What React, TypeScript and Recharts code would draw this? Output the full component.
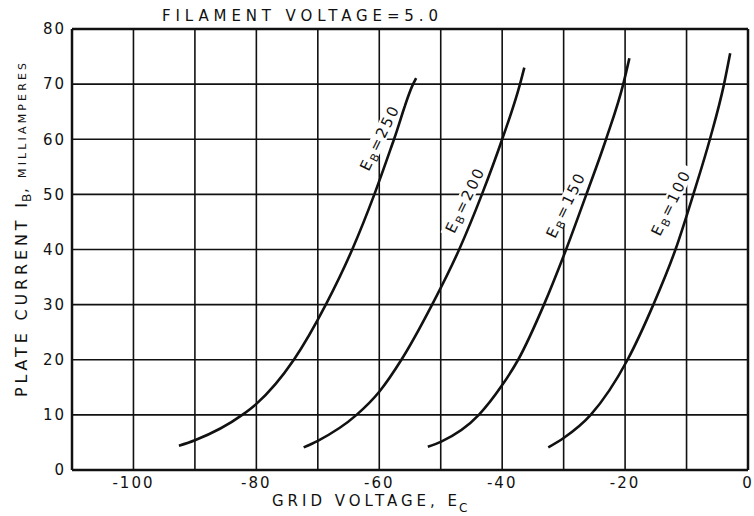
import React from 'react';
import { LineChart, Line, XAxis, YAxis, CartesianGrid, ReferenceDot, ReferenceLine } from 'recharts';

// grid voltage (x) / plate current mA (y), one pair of arrays per curve
const ec250 = [-92.6, -90, -82.3, -80, -73.9, -68.7, -64.4, -60.8, -57.6, -54.5, -54.0];
const ib250 = [4.4, 5.4, 10, 12, 20, 30, 40, 50, 60, 70, 71.1];

const ec200 = [-72.3, -70, -63.7, -60, -56.4, -51.4, -47.0, -43.3, -40.0, -37.1, -36.4];
const ib200 = [4.1, 5.3, 10, 14.2, 20, 30, 40, 50, 60, 70, 73.0];

const ec150 = [-52.1, -50, -43.8, -40, -37.4, -33.2, -29.6, -26.3, -23.1, -20.3, -19.3];
const ib150 = [4.2, 5.1, 10, 15.4, 20, 30, 40, 50, 60, 70, 74.7];

const ec100 = [-32.5, -30, -25.6, -19.6, -15.4, -11.8, -8.9, -6.2, -3.9, -2.9];
const ib100 = [4.1, 5.8, 10, 20, 30, 40, 50, 60, 70, 75.6];

const plateVolts = ['250', '200', '150', '100'];
// where each E_B label sits, in chart units
const labelEc = [-59.9, -46.0, -29.6, -12.5];
const labelIb = [60.3, 49.0, 48.1, 48.5];

const xTicks = [-110, -100, -90, -80, -70, -60, -50, -40, -30, -20, -10, 0];
const yTicks = [0, 10, 20, 30, 40, 50, 60, 70, 80];

const pairs = (xs: number[], ys: number[]) => xs.map((x, i) => ({ x, y: ys[i] }));
const curves = [pairs(ec250, ib250), pairs(ec200, ib200), pairs(ec150, ib150), pairs(ec100, ib100)];

const INK = '#111';
const FONT = '"DejaVu Sans", Verdana, sans-serif';

const curveLabel = (volts: string) => (props: any) => {
  const vb = props.viewBox || {};
  const cx = (vb.x || 0) + (vb.width || 0) / 2;
  const cy = (vb.y || 0) + (vb.height || 0) / 2;
  return (
    <g transform={`translate(${cx},${cy}) rotate(-64)`}>
      <rect x={-40} y={-8} width={80} height={15} fill="#fff" />
      <text x={0} y={5} textAnchor="middle" fontFamily={FONT} fontSize={15} letterSpacing={2.2} fill={INK}>
        E<tspan fontSize={11} dy={3}>B</tspan>
        <tspan dy={-3} fontSize={15}>={volts}</tspan>
      </text>
    </g>
  );
};

const tickStyle = { fontFamily: FONT, fontSize: 15, fill: INK, letterSpacing: 2 };

export default function App() {
  return (
    <div style={{ position: 'absolute', left: 0, top: 0, width: 754, height: 516, background: '#fff' }}>
      <LineChart width={754} height={516} margin={{ top: 29, right: 6, bottom: 0, left: 0 }}>
        <CartesianGrid stroke={INK} strokeWidth={1.6} />
        <XAxis
          dataKey="x"
          type="number"
          domain={[-110, 0]}
          ticks={xTicks}
          allowDataOverflow
          height={46}
          tickSize={0}
          tickMargin={7}
          tickLine={false}
          axisLine={{ stroke: INK, strokeWidth: 2.5 }}
          tick={tickStyle}
          tickFormatter={(v: number) => (v % 20 === 0 ? (v === 0 ? '0' : String(v)) : '')}
          interval={0}
        />
        <YAxis
          dataKey="y"
          type="number"
          domain={[0, 80]}
          ticks={yTicks}
          allowDataOverflow
          width={72}
          tickSize={0}
          tickMargin={6}
          tickLine={false}
          axisLine={{ stroke: INK, strokeWidth: 2.5 }}
          tick={tickStyle}
          interval={0}
        />
        <ReferenceLine y={80} stroke={INK} strokeWidth={2.5} />
        <ReferenceLine x={0} stroke={INK} strokeWidth={2.5} />
        {curves.map((d, i) => (
          <Line
            key={plateVolts[i]}
            data={d}
            dataKey="y"
            type="monotone"
            stroke={INK}
            strokeWidth={2.6}
            dot={false}
            isAnimationActive={false}
          />
        ))}
        {plateVolts.map((v, i) => (
          <ReferenceDot
            key={'lbl' + v}
            x={labelEc[i]}
            y={labelIb[i]}
            r={1}
            fill="none"
            stroke="none"
            label={{ content: curveLabel(v) }}
          />
        ))}
      </LineChart>
      <svg width={754} height={516} style={{ position: 'absolute', left: 0, top: 0, pointerEvents: 'none' }}>
        <text x={162} y={21} fontFamily={FONT} fontSize={15} fill={INK} textLength={276}>
          FILAMENT VOLTAGE=5.0
        </text>
        <text x={272} y={506} fontFamily={FONT} fontSize={15} fill={INK} textLength={185}>
          GRID VOLTAGE, E
        </text>
        <text x={459} y={512} fontFamily={FONT} fontSize={12} fill={INK}>
          C
        </text>
        <g transform="rotate(-90)">
          <text x={-397} y={27} fontFamily={FONT} fontSize={16} fill={INK} textLength={194}>
            PLATE CURRENT I
          </text>
          <text x={-202} y={31} fontFamily={FONT} fontSize={12} fill={INK}>
            B
          </text>
          <text x={-193} y={27} fontFamily={FONT} fontSize={15} fill={INK}>
            ,
          </text>
          <text x={-178} y={26} fontFamily={FONT} fontSize={11} fill={INK} textLength={115}>
            MILLIAMPERES
          </text>
        </g>
      </svg>
    </div>
  );
}
